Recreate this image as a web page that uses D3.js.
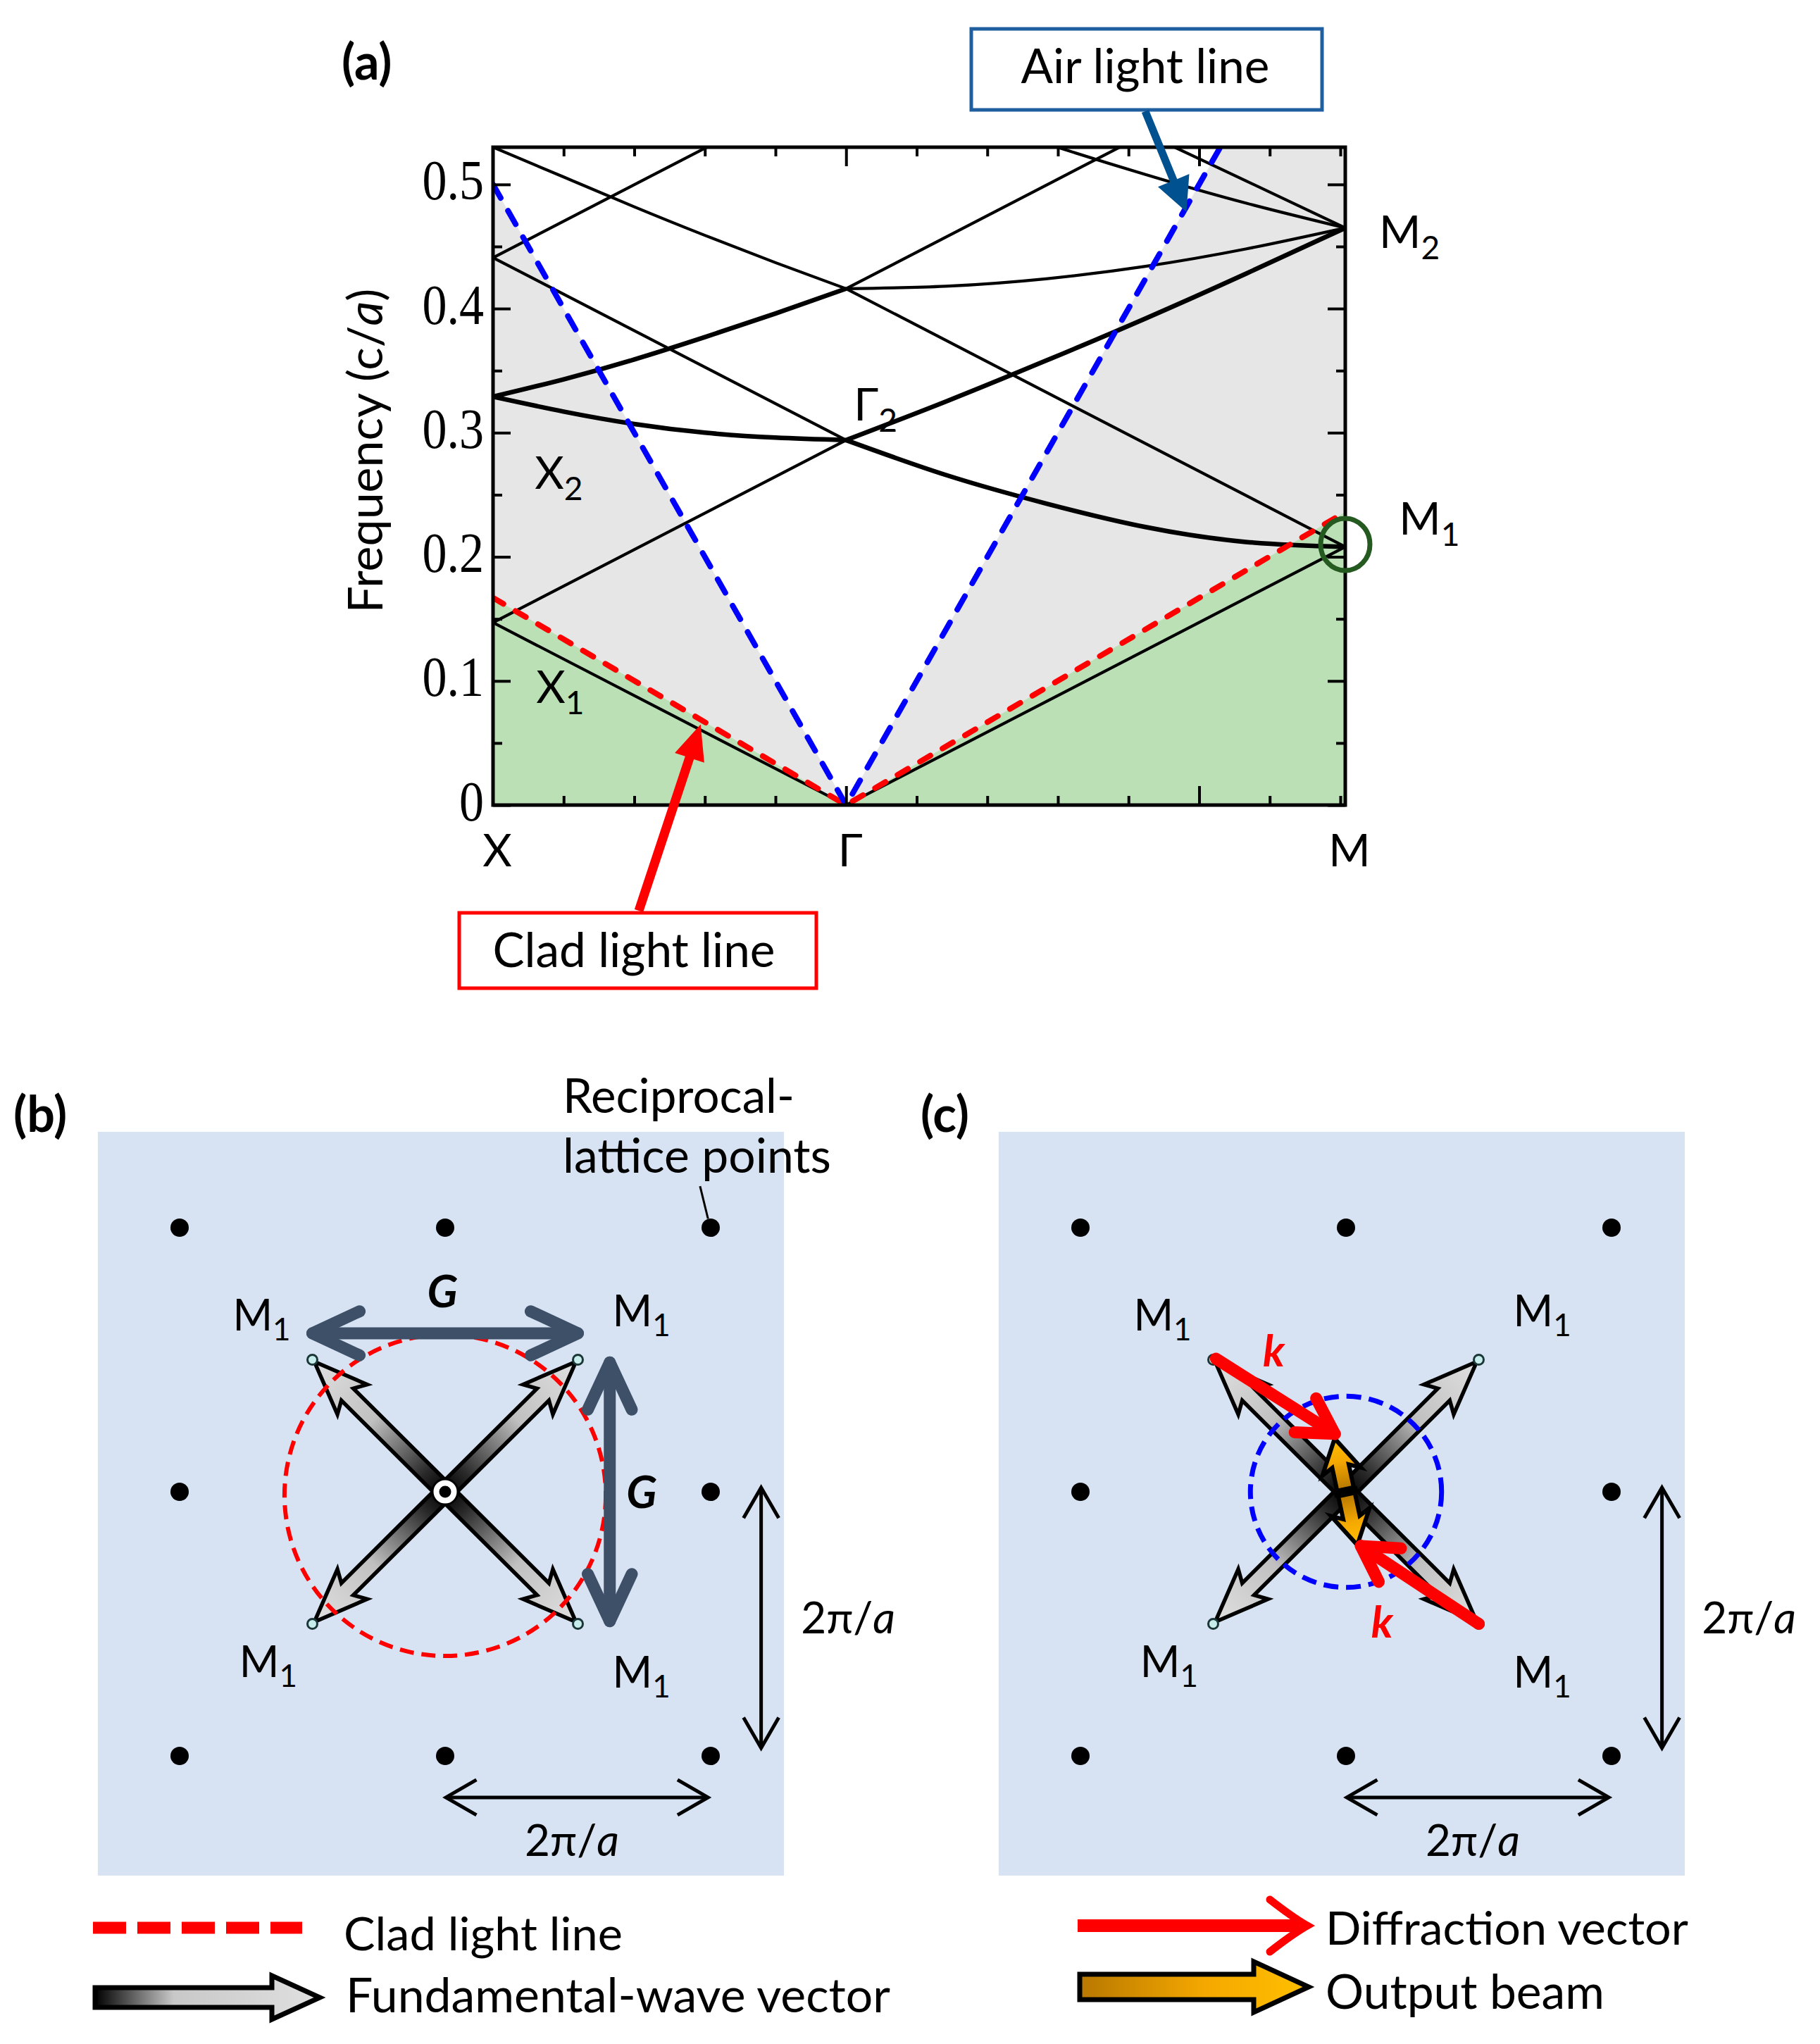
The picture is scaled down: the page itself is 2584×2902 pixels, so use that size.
<!DOCTYPE html>
<html><head><meta charset="utf-8">
<script src="https://cdn.jsdelivr.net/npm/d3@7"></script>
<style>
body{margin:0;background:#fff}
svg{display:block}
text{font-family:Lato,"Open Sans",sans-serif}
</style>
</head><body>
<svg id="fig" width="2584" height="2902"></svg>
<script>
// ---------------- DATA (panel a) ----------------
const pathLabels = ["X", "Γ", "M"];
const pathPos = [0, 0.5, 1.207];
const yMajorTicks = [0, 0.1, 0.2, 0.3, 0.4, 0.5];
const yMinorTicks = [0.05, 0.15, 0.25, 0.35, 0.45];
const kMinorTicks = [0.1, 0.2, 0.3, 0.4, 0.6, 0.7, 0.8, 0.9, 1.1, 1.2];
const kMajorTicks = [0.5, 1.0];
const fMax = 0.53;
const cladLine = [[0, 0.167], [0.5, 0], [1.207, 0.236]];
const airLine = [[0, 0.5], [0.5, 0], [1.035, 0.535]];
// band lines: [path coordinate, frequency]
const bandL1 = [[0, 0.147], [0.5, 0]];
const bandL2 = [[0, 0.147], [0.5, 0.294]];
const bandL3 = [[0, 0.441], [0.5, 0.294]];
const bandL4 = [[0, 0.441], [0.5, 0.588]];
const bandL5 = [[0.5, 0], [1.207, 0.208]];
const bandL6 = [[0.5, 0.416], [1.207, 0.208]];
const bandL7 = [[0.5, 0.416], [1.207, 0.624]];
const bandA = [[0, 0.329], [0.1, 0.317], [0.2, 0.307], [0.3, 0.300], [0.4, 0.296], [0.5, 0.294]];
const bandB = [[0, 0.329], [0.1, 0.343], [0.2, 0.359], [0.3, 0.377], [0.4, 0.396], [0.5, 0.416]];
const bandC = [[0, 0.530], [0.1, 0.506], [0.2, 0.482], [0.3, 0.459], [0.4, 0.437], [0.5, 0.416]];
const bandD = [[0.5, 0.294], [0.641, 0.266], [0.783, 0.243], [0.924, 0.224], [1.066, 0.212], [1.207, 0.208]];
const bandE = [[0.5, 0.294], [0.641, 0.325], [0.783, 0.358], [0.924, 0.392], [1.066, 0.428], [1.207, 0.465]];
const bandF = [[0.5, 0.416], [0.641, 0.418], [0.783, 0.424], [0.924, 0.434], [1.066, 0.448], [1.207, 0.465]];
const bandG = [[0.5, 0.588], [0.641, 0.560], [0.783, 0.533], [0.924, 0.508], [1.066, 0.485], [1.207, 0.465]];
const bandH = [[0.5, 0.658], [0.641, 0.618], [0.783, 0.579], [0.924, 0.541], [1.066, 0.503], [1.207, 0.465]];
const thinBands = [bandL1, bandL2, bandL3, bandL4, bandL5, bandL6, bandL7, bandC, bandF, bandG, bandH];
const thickBands = [bandA, bandB, bandD, bandE];
// point labels [k, f]
const pointLabels = [
  {t: "Γ", s: "2", k: 0.511, f: 0.310},
  {t: "X", s: "2", k: 0.059, f: 0.255},
  {t: "X", s: "1", k: 0.061, f: 0.082},
  {t: "M", s: "2", k: 1.255, f: 0.449},
  {t: "M", s: "1", k: 1.283, f: 0.218}
];
const m1Mark = [1.207, 0.21];
const airArrowTip = [0.982, 0.478];
const cladArrowTip = [0.294, 0.065];

// ---------------- DATA (panels b, c) ----------------
const latticeIdx = [-1, 0, 1];
const m1Points = [[-0.5, 0.5], [0.5, 0.5], [-0.5, -0.5], [0.5, -0.5]];
const m1LabelPos = [[-0.8, 0.61], [0.63, 0.627], [-0.775, -0.70], [0.63, -0.74]];
const gArrows = [[[-0.5, 0.6], [0.5, 0.6]], [[0.62, 0.49], [0.62, -0.49]]];
const gLabelPos = [[-0.01, 0.70], [0.74, -0.061]];
const scaleArrows = [[[1.19, 0.016], [1.19, -0.97]], [[0.003, -1.157], [0.99, -1.157]]];
const scaleLabelPos = [[1.34, -0.536], [0.30, -1.379]];
const kArrows = [[[-0.49, 0.504], [-0.042, 0.219]], [[0.5, -0.5], [0.056, -0.205]]];
const kLabelPos = [[-0.313, 0.475], [0.095, -0.552]];
const panelBox = [[-1.308, 1.363], [1.276, -1.453]];
const cladCircleR = 0.605;
const airCircleR = 0.36;
const fundTipFrac = 0.985;
const beamTilt = -12;
const beamHalf = 0.205;

// ---------------- SETUP ----------------
const svg = d3.select("#fig");
const defs = svg.append("defs");
svg.append("rect").attr("width", 2584).attr("height", 2902).attr("fill", "#fff");

function fit(sel, target) {
  const w = sel.node().getComputedTextLength();
  const fs = parseFloat(sel.attr("font-size"));
  if (w > 0) sel.attr("font-size", fs * target / w);
  return sel;
}
function blockArrowPts(x1, y1, x2, y2, sw, hl, hw) {
  const dx = x2 - x1, dy = y2 - y1, L = Math.hypot(dx, dy);
  const ux = dx / L, uy = dy / L, px = -uy, py = ux;
  const bx = x2 - ux * hl, by = y2 - uy * hl;
  return [[x1 + px * sw / 2, y1 + py * sw / 2], [bx + px * sw / 2, by + py * sw / 2],
    [bx + px * hw / 2, by + py * hw / 2], [x2, y2], [bx - px * hw / 2, by - py * hw / 2],
    [bx - px * sw / 2, by - py * sw / 2], [x1 - px * sw / 2, y1 - py * sw / 2]];
}
function chevron(g, p1, p2, o) {
  g.append("line").attr("x1", p1[0]).attr("y1", p1[1]).attr("x2", p2[0]).attr("y2", p2[1])
    .attr("stroke", o.color).attr("stroke-width", o.width).attr("stroke-linecap", o.cap || "butt");
  const heads = o.both ? [[p2, p1], [p1, p2]] : [[p2, p1]];
  heads.forEach(([t, s]) => {
    const a = Math.atan2(s[1] - t[1], s[0] - t[0]);
    const r = o.ang * Math.PI / 180;
    const a1 = [t[0] + o.arm * Math.cos(a + r), t[1] + o.arm * Math.sin(a + r)];
    const a2 = [t[0] + o.arm * Math.cos(a - r), t[1] + o.arm * Math.sin(a - r)];
    g.append("path").attr("d", `M${a1}L${t}L${a2}`).attr("fill", "none")
      .attr("stroke", o.color).attr("stroke-width", o.width)
      .attr("stroke-linecap", o.cap || "butt").attr("stroke-linejoin", o.join || "miter");
  });
}
function fundShape(L, w, H, h, back) {
  return `M0,${-w}L${L - h},${-w}L${L - h - back},${-H}L${L},0L${L - h - back},${H}L${L - h},${w}L0,${w}Z`;
}

// gradients
const gf = defs.append("linearGradient").attr("id", "fundGrad").attr("x1", 0).attr("x2", 1).attr("y1", 0).attr("y2", 0);
gf.append("stop").attr("offset", 0).attr("stop-color", "#000");
gf.append("stop").attr("offset", 0.15).attr("stop-color", "#2a2a2a");
gf.append("stop").attr("offset", 0.55).attr("stop-color", "#c0c0c0");
gf.append("stop").attr("offset", 1).attr("stop-color", "#e0e0e0");
const gl = defs.append("linearGradient").attr("id", "legFund").attr("x1", 0).attr("x2", 1).attr("y1", 0).attr("y2", 0);
gl.append("stop").attr("offset", 0).attr("stop-color", "#000");
gl.append("stop").attr("offset", 0.35).attr("stop-color", "#c8c8c8");
gl.append("stop").attr("offset", 1).attr("stop-color", "#e0e0e0");
const go = defs.append("linearGradient").attr("id", "orangeGrad").attr("x1", 0).attr("x2", 1).attr("y1", 0).attr("y2", 0);
go.append("stop").attr("offset", 0).attr("stop-color", "#b87800");
go.append("stop").attr("offset", 0.55).attr("stop-color", "#f5a800");
go.append("stop").attr("offset", 1).attr("stop-color", "#ffc000");

// ---------------- PANEL (a) ----------------
const plot = {left: 700, right: 1910, top: 209, bottom: 1143};
const x = d3.scaleLinear().domain([0, pathPos[2]]).range([plot.left, plot.right]);
const y = d3.scaleLinear().domain([0, fMax]).range([plot.bottom, plot.top]);
defs.append("clipPath").attr("id", "plotClip").append("rect")
  .attr("x", plot.left).attr("y", plot.top).attr("width", plot.right - plot.left).attr("height", plot.bottom - plot.top);
const ga = svg.append("g");
const gp = ga.append("g").attr("clip-path", "url(#plotClip)");
gp.append("rect").attr("x", plot.left).attr("y", plot.top).attr("width", plot.right - plot.left)
  .attr("height", plot.bottom - plot.top).attr("fill", "#e6e6e6");
const poly = d3.line().x(d => x(d[0])).y(d => y(d[1]));
const whiteV = [[airLine[0][0], fMax + 0.05], ...airLine, [airLine[2][0] + 0.05, fMax + 0.05]];
gp.append("path").attr("d", poly(whiteV) + "Z").attr("fill", "#fff");
const greenPoly = [[0, 0], ...cladLine, [pathPos[2], 0]];
gp.append("path").attr("d", poly(greenPoly) + "Z").attr("fill", "#bbe0b5");
const curve = d3.line().x(d => x(d[0])).y(d => y(d[1])).curve(d3.curveNatural);
gp.selectAll(".thin").data(thinBands).join("path").attr("d", curve)
  .attr("fill", "none").attr("stroke", "#000").attr("stroke-width", 4.2);
gp.selectAll(".thick").data(thickBands).join("path").attr("d", curve)
  .attr("fill", "none").attr("stroke", "#000").attr("stroke-width", 6.5);
gp.append("path").attr("d", poly(cladLine)).attr("fill", "none").attr("stroke", "#ff0000")
  .attr("stroke-width", 8).attr("stroke-dasharray", "17 20").attr("stroke-linecap", "round");
gp.append("path").attr("d", poly(airLine)).attr("fill", "none").attr("stroke", "#0000ff")
  .attr("stroke-width", 8).attr("stroke-dasharray", "22 21").attr("stroke-linecap", "round");

// axes
function styleAxis(g) { g.select(".domain").remove(); g.selectAll("line").attr("stroke", "#000").attr("stroke-width", 4); }
ga.append("g").attr("transform", `translate(${plot.left},0)`)
  .call(d3.axisLeft(y).tickValues(yMajorTicks).tickSize(-25).tickPadding(12).tickFormat(d => d === 0 ? "0" : d3.format(".1f")(d)))
  .call(styleAxis)
  .call(g => g.selectAll("text")
    .style("font-family", "'Liberation Serif','Times New Roman',serif")
    .style("font-size", "70px").style("fill", "#000")
    .attr("x", 0).attr("dy", null).attr("y", 0)
    .attr("transform", "translate(-13,21) scale(1,1.16)"));
ga.append("g").attr("transform", `translate(${plot.left},0)`)
  .call(d3.axisLeft(y).tickValues(yMinorTicks).tickSize(-13).tickFormat("")).call(styleAxis);
ga.append("g").attr("transform", `translate(${plot.right},0)`)
  .call(d3.axisRight(y).tickValues(yMajorTicks).tickSize(-25).tickFormat("")).call(styleAxis);
ga.append("g").attr("transform", `translate(${plot.right},0)`)
  .call(d3.axisRight(y).tickValues(yMinorTicks).tickSize(-13).tickFormat("")).call(styleAxis);
ga.append("g").attr("transform", `translate(0,${plot.bottom})`)
  .call(d3.axisBottom(x).tickValues(kMinorTicks).tickSize(-13).tickFormat("")).call(styleAxis);
ga.append("g").attr("transform", `translate(0,${plot.bottom})`)
  .call(d3.axisBottom(x).tickValues(kMajorTicks).tickSize(-27).tickFormat("")).call(styleAxis);
ga.append("g").attr("transform", `translate(0,${plot.top})`)
  .call(d3.axisTop(x).tickValues(kMinorTicks).tickSize(-13).tickFormat("")).call(styleAxis);
ga.append("g").attr("transform", `translate(0,${plot.top})`)
  .call(d3.axisTop(x).tickValues(kMajorTicks).tickSize(-27).tickFormat("")).call(styleAxis);
ga.append("rect").attr("x", plot.left).attr("y", plot.top).attr("width", plot.right - plot.left)
  .attr("height", plot.bottom - plot.top).attr("fill", "none").attr("stroke", "#000").attr("stroke-width", 5);

// x path labels
ga.selectAll(".plab").data(pathLabels).join("text")
  .attr("x", (d, i) => x(pathPos[i]) + 6).attr("y", 1230).attr("text-anchor", "middle")
  .attr("font-size", 64).text(d => d);
// y label
const yl = ga.append("text").attr("transform", `translate(543,640) rotate(-90)`)
  .attr("text-anchor", "middle").attr("font-size", 70);
yl.append("tspan").text("Frequency (c/");
yl.append("tspan").attr("font-style", "italic").text("a");
yl.append("tspan").text(")");
fit(yl, 461);
// point labels
pointLabels.forEach(p => {
  const t = ga.append("text").attr("x", x(p.k)).attr("y", y(p.f)).attr("font-size", 64);
  t.append("tspan").text(p.t);
  t.append("tspan").attr("font-size", "0.72em").attr("dy", 16).text(p.s);
});
// M1 circle
ga.append("ellipse").attr("cx", x(m1Mark[0])).attr("cy", y(m1Mark[1])).attr("rx", 35).attr("ry", 37)
  .attr("fill", "none").attr("stroke", "#245a20").attr("stroke-width", 7);
// (a) label
ga.append("text").attr("x", 485).attr("y", 113).attr("font-size", 70).attr("font-weight", "bold").text("(a)");
// Air light line box + arrow
ga.append("rect").attr("x", 1379).attr("y", 41).attr("width", 498).attr("height", 115)
  .attr("fill", "#fff").attr("stroke", "#1f5f9f").attr("stroke-width", 5);
fit(ga.append("text").attr("x", 1626).attr("y", 118).attr("text-anchor", "middle").attr("font-size", 68).text("Air light line"), 353);
ga.append("polygon").attr("points", blockArrowPts(1626, 158, x(airArrowTip[0]), y(airArrowTip[1]), 11, 48, 48).join(" "))
  .attr("fill", "#00518f");
// Clad light line box + arrow
ga.append("rect").attr("x", 652).attr("y", 1296).attr("width", 507).attr("height", 107)
  .attr("fill", "#fff").attr("stroke", "#ff0000").attr("stroke-width", 5);
fit(ga.append("text").attr("x", 900).attr("y", 1373).attr("text-anchor", "middle").attr("font-size", 68).text("Clad light line"), 401);
ga.append("polygon").attr("points", blockArrowPts(907, 1293, x(cladArrowTip[0]), y(cladArrowTip[1]), 13, 50, 44).join(" "))
  .attr("fill", "#ff0000");

// ---------------- PANELS (b) and (c) ----------------
const ly = d3.scaleLinear().domain([1, -1]).range([1743, 2493]);
function lattice(cx0, mode) {
  const lx = d3.scaleLinear().domain([-1, 1]).range([cx0 - 377, cx0 + 377]);
  const g = svg.append("g");
  const P = d => [lx(d[0]), ly(d[1])];
  g.append("rect").attr("x", lx(panelBox[0][0])).attr("y", ly(panelBox[0][1]))
    .attr("width", lx(panelBox[1][0]) - lx(panelBox[0][0])).attr("height", ly(panelBox[1][1]) - ly(panelBox[0][1]))
    .attr("fill", "#d7e3f2");
  const pts = latticeIdx.flatMap(i => latticeIdx.map(j => [i, j]));
  g.selectAll(".dot").data(pts).join("circle").attr("cx", d => lx(d[0])).attr("cy", d => ly(d[1]))
    .attr("r", 13).attr("fill", "#000");
  // M1 labels
  m1LabelPos.forEach(p => {
    const t = g.append("text").attr("x", lx(p[0])).attr("y", ly(p[1])).attr("font-size", 61);
    t.append("tspan").text("M");
    t.append("tspan").attr("font-size", "0.72em").attr("dy", 14).text("1");
  });
  // fundamental arrows
  const c = P([0, 0]);
  m1Points.forEach(m => {
    const q = P(m);
    const L = Math.hypot(q[0] - c[0], q[1] - c[1]) * fundTipFrac;
    const ang = Math.atan2(q[1] - c[1], q[0] - c[0]) * 180 / Math.PI;
    g.append("path").attr("transform", `translate(${c}) rotate(${ang})`)
      .attr("d", fundShape(L, 12, 30, 66, 10)).attr("fill", "url(#fundGrad)")
      .attr("stroke", "#000").attr("stroke-width", 5.5).attr("stroke-linejoin", "miter");
  });
  // M1 small circles
  g.selectAll(".m1").data(m1Points).join("circle").attr("cx", d => lx(d[0])).attr("cy", d => ly(d[1]))
    .attr("r", 7).attr("fill", "#c6ecec").attr("stroke", "#1a3636").attr("stroke-width", 3);
  // scale arrows
  scaleArrows.forEach(s => chevron(g, P(s[0]), P(s[1]), {color: "#000", width: 5, arm: 50, ang: 30, both: true}));
  scaleLabelPos.forEach(p => {
    const t = g.append("text").attr("x", lx(p[0])).attr("y", ly(p[1])).attr("font-size", 62);
    t.append("tspan").text("2π/");
    t.append("tspan").attr("font-style", "italic").text("a");
  });
  if (mode === "b") {
    g.append("circle").attr("cx", c[0]).attr("cy", c[1] + 5).attr("r", cladCircleR * 377)
      .attr("fill", "none").attr("stroke", "#ff0000").attr("stroke-width", 6).attr("stroke-dasharray", "20 11");
    g.append("circle").attr("cx", c[0]).attr("cy", c[1]).attr("r", 18).attr("fill", "#fff").attr("stroke", "#000").attr("stroke-width", 3);
    g.append("circle").attr("cx", c[0]).attr("cy", c[1]).attr("r", 8.5).attr("fill", "#000");
    gArrows.forEach(s => chevron(g, P(s[0]), P(s[1]), {color: "#3d5068", width: 17, arm: 74, ang: 25, both: true, cap: "round", join: "round"}));
    gLabelPos.forEach(p => {
      g.append("text").attr("x", lx(p[0])).attr("y", ly(p[1])).attr("text-anchor", "middle")
        .attr("font-size", 64).attr("font-weight", "bold").attr("font-style", "italic").text("G");
    });
    const r1 = g.append("text").attr("x", lx(0.443)).attr("y", ly(1.435)).attr("font-size", 64).text("Reciprocal-");
    fit(r1, 329);
    const r2 = g.append("text").attr("x", lx(0.443)).attr("y", ly(1.208)).attr("font-size", 64).text("lattice points");
    fit(r2, 381);
    g.append("line").attr("x1", lx(0.96)).attr("y1", ly(1.157)).attr("x2", lx(0.99)).attr("y2", ly(1.034))
      .attr("stroke", "#000").attr("stroke-width", 3);
  } else {
    g.append("circle").attr("cx", c[0]).attr("cy", c[1]).attr("r", airCircleR * 377)
      .attr("fill", "none").attr("stroke", "#0000ff").attr("stroke-width", 7).attr("stroke-dasharray", "21 11");
    // output beam (double)
    const bl = beamHalf * 377;
    const gb = g.append("g").attr("transform", `translate(${c}) rotate(${beamTilt})`);
    [-90, 90].forEach(a => {
      gb.append("path").attr("transform", `rotate(${a}) translate(4,0)`)
        .attr("d", fundShape(bl - 4, 12, 28, 40, 8)).attr("fill", "url(#orangeGrad)")
        .attr("stroke", "#000").attr("stroke-width", 6);
    });
    gb.append("line").attr("x1", -17).attr("x2", 17).attr("y1", 0).attr("y2", 0).attr("stroke", "#000").attr("stroke-width", 10);
    kArrows.forEach(s => chevron(g, P(s[0]), P(s[1]), {color: "#ff0000", width: 17, arm: 57, ang: 30, cap: "round", join: "round"}));
    kLabelPos.forEach(p => g.append("text").attr("x", lx(p[0])).attr("y", ly(p[1])).attr("font-size", 62)
      .attr("font-weight", "bold").attr("font-style", "italic").style("fill", "#ff0000").text("k"));
  }
}
lattice(632, "b");
lattice(1911, "c");
svg.append("text").attr("x", 19).attr("y", 1607).attr("font-size", 70).attr("font-weight", "bold").text("(b)");
svg.append("text").attr("x", 1307).attr("y", 1607).attr("font-size", 70).attr("font-weight", "bold").text("(c)");

// ---------------- LEGEND ----------------
const lg = svg.append("g");
lg.append("line").attr("x1", 132).attr("x2", 429).attr("y1", 2737).attr("y2", 2737)
  .attr("stroke", "#ff0000").attr("stroke-width", 17).attr("stroke-dasharray", "47 16");
lg.append("path").attr("transform", "translate(135,2836)")
  .attr("d", "M0,-14L251,-14L251,-31L319,0L251,31L251,14L0,14Z")
  .attr("fill", "url(#legFund)").attr("stroke", "#000").attr("stroke-width", 7);
lg.append("line").attr("x1", 1530).attr("x2", 1845).attr("y1", 2734).attr("y2", 2734)
  .attr("stroke", "#ff0000").attr("stroke-width", 18);
lg.append("path").attr("d", "M1803,2697Q1835,2722 1856,2734Q1835,2746 1803,2771")
  .attr("fill", "none").attr("stroke", "#ff0000").attr("stroke-width", 11).attr("stroke-linecap", "round");
lg.append("path").attr("transform", "translate(1533,2821)")
  .attr("d", "M0,-18L247,-18L247,-36L325,0L247,36L247,18L0,18Z")
  .attr("fill", "url(#orangeGrad)").attr("stroke", "#000").attr("stroke-width", 7);
fit(lg.append("text").attr("x", 488).attr("y", 2769).attr("font-size", 68).text("Clad light line"), 396);
fit(lg.append("text").attr("x", 491).attr("y", 2857).attr("font-size", 68).text("Fundamental-wave vector"), 773);
fit(lg.append("text").attr("x", 1882).attr("y", 2761).attr("font-size", 68).text("Diffraction vector"), 515);
fit(lg.append("text").attr("x", 1882).attr("y", 2852).attr("font-size", 68).text("Output beam"), 396);
</script>
</body></html>
